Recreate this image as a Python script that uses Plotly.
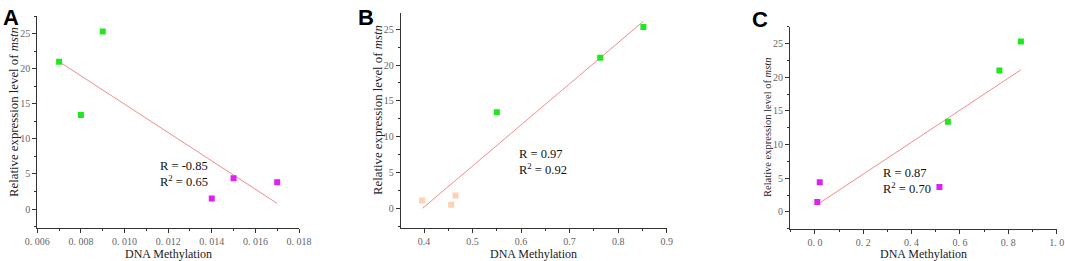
import plotly.graph_objects as go

# ---------------- data ----------------
# Panel A
a_green_x = [0.007, 0.008, 0.009]
a_green_y = [21.0, 13.4, 25.3]
a_mag_x = [0.014, 0.015, 0.017]
a_mag_y = [1.5, 4.4, 3.8]
a_fit_x = [0.007, 0.017]
a_fit_y = [21.0, 0.8]
a_stats = ["R = -0.85", "R<sup>2</sup> = 0.65"]

# Panel B
b_green_x = [0.55, 0.763, 0.852]
b_green_y = [13.4, 21.0, 25.3]
b_peach_x = [0.396, 0.456, 0.465]
b_peach_y = [1.1, 0.5, 1.8]
b_fit_x = [0.397, 0.852]
b_fit_y = [0.0, 26.1]
b_stats = ["R = 0.97", "R<sup>2</sup> = 0.92"]

# Panel C
c_mag_x = [0.01, 0.02, 0.515]
c_mag_y = [1.5, 4.4, 3.7]
c_green_x = [0.55, 0.763, 0.852]
c_green_y = [13.4, 21.0, 25.3]
c_fit_x = [0.01, 0.852]
c_fit_y = [1.1, 21.1]
c_stats = ["R = 0.87", "R<sup>2</sup> = 0.70"]

# tick labels
a_xticks = [0.006, 0.008, 0.010, 0.012, 0.014, 0.016, 0.018]
a_xtext = ["0.\u00a0006", "0.\u00a0008", "0.\u00a0010", "0.\u00a0012", "0.\u00a0014", "0.\u00a0016", "0.\u00a0018"]
b_xticks = [0.4, 0.5, 0.6, 0.7, 0.8, 0.9]
b_xtext = ["0.4", "0.5", "0.6", "0.7", "0.8", "0.9"]
c_xticks = [0.0, 0.2, 0.4, 0.6, 0.8, 1.0]
c_xtext = ["0.\u00a00", "0.\u00a02", "0.\u00a04", "0.\u00a06", "0.\u00a08", "1.\u00a00"]
y_ticks = [0, 5, 10, 15, 20, 25]
y_text = ["0", "5", "10", "15", "20", "25"]

panel_letters = ["A", "B", "C"]
x_title = "DNA Methylation"
y_title = "Relative expression level of <i>mstn</i>"

# ---------------- style ----------------
GREEN = "#1fe81f"
MAG = "#dc22ee"
PEACH = "#fcd2b4"
LINE = "#f28c8c"
SERIF = "Liberation Serif, Times New Roman, serif"
TICKC = "#666666"

fig = go.Figure()

def pts(x, y, color, ax):
    fig.add_trace(go.Scatter(x=x, y=y, mode="markers", xaxis="x" + ax, yaxis="y" + ax,
                             marker=dict(symbol="square", size=6, color=color, line=dict(width=0)),
                             showlegend=False, hoverinfo="skip"))

def fit(x, y, ax):
    fig.add_trace(go.Scatter(x=x, y=y, mode="lines", xaxis="x" + ax, yaxis="y" + ax,
                             line=dict(color=LINE, width=1), showlegend=False, hoverinfo="skip"))

fit(a_fit_x, a_fit_y, "")
pts(a_green_x, a_green_y, GREEN, "")
pts(a_mag_x, a_mag_y, MAG, "")

fit(b_fit_x, b_fit_y, "2")
pts(b_green_x, b_green_y, GREEN, "2")
pts(b_peach_x, b_peach_y, PEACH, "2")

fit(c_fit_x, c_fit_y, "3")
pts(c_mag_x, c_mag_y, MAG, "3")
pts(c_green_x, c_green_y, GREEN, "3")

W, H = 1065, 261

def px_x(p):
    return p / W

def px_y(p):
    return 1 - p / H

def xaxis(dom, rng, vals, text, minor_dtick, anchor):
    return dict(domain=dom, range=rng, anchor=anchor, showgrid=False, zeroline=False,
                automargin=False,
                showline=True, linecolor="#333333", linewidth=1,
                ticks="outside", ticklen=4, tickcolor="#333333",
                tickvals=vals, ticktext=text,
                tickfont=dict(family=SERIF, size=10, color=TICKC),
                minor=dict(ticks="outside", ticklen=2, tickcolor="#333333", dtick=minor_dtick,
                           tick0=vals[0], showgrid=False))

def yaxis(dom, rng, anchor):
    return dict(domain=dom, range=rng, anchor=anchor, showgrid=False, zeroline=False,
                automargin=False,
                showline=True, linecolor="#333333", linewidth=1,
                ticks="outside", ticklen=4, tickcolor="#333333",
                tickvals=y_ticks, ticktext=y_text,
                tickfont=dict(family=SERIF, size=10, color=TICKC),
                minor=dict(ticks="outside", ticklen=2, tickcolor="#333333", dtick=2.5,
                           tick0=0, showgrid=False))

layout = dict(
    width=W, height=H, margin=dict(l=0, r=0, t=0, b=0, pad=0, autoexpand=False),
    plot_bgcolor="white", paper_bgcolor="white",
    xaxis=xaxis([px_x(37.3), px_x(299)], [0.006, 0.018], a_xticks, a_xtext, 0.001, "y"),
    yaxis=yaxis([px_y(228), px_y(16)], [-2.7, 27.5], "x"),
    xaxis2=xaxis([px_x(400.7), px_x(666.7)], [0.352, 0.9], b_xticks, b_xtext, 0.05, "y2"),
    yaxis2=yaxis([px_y(227.7), px_y(12.7)], [-2.7, 27.3], "x2"),
    xaxis3=xaxis([px_x(790), px_x(1056.7)], [-0.103, 1.0], c_xticks, c_xtext, 0.1, "y3"),
    yaxis3=yaxis([px_y(229.3), px_y(26.7)], [-2.57, 27.5], "x3"),
)
fig.update_layout(**layout)

ann = []
# panel letters
for letter, cx, cy in zip(panel_letters, [11, 366, 760], [17, 17, 20]):
    ann.append(dict(text="<b>" + letter + "</b>", x=px_x(cx), y=px_y(cy), xref="paper", yref="paper",
                    showarrow=False, xanchor="center", yanchor="middle",
                    font=dict(family="Liberation Sans, Arial, sans-serif", size=22, color="black")))
# x titles
for cx in [168, 533, 923]:
    ann.append(dict(text=x_title, x=px_x(cx), y=px_y(253.5), xref="paper", yref="paper",
                    showarrow=False, xanchor="center", yanchor="middle",
                    font=dict(family=SERIF, size=12, color="#222222")))
# y titles
for cx, cy, fs in [(14, 112, 12.8), (378, 110, 12.8), (768, 128, 10.5)]:
    ann.append(dict(text=y_title, x=px_x(cx), y=px_y(cy), xref="paper", yref="paper",
                    showarrow=False, xanchor="center", yanchor="middle", textangle=-90,
                    font=dict(family=SERIF, size=fs, color="#222222")))
# stats
for stats, lx, ty in [(a_stats, 158, 166), (b_stats, 517, 154), (c_stats, 881, 173)]:
    for i, s in enumerate(stats):
        ann.append(dict(text=s, x=px_x(lx), y=px_y(ty + 14.5 * i), xref="paper", yref="paper",
                        showarrow=False, xanchor="left", yanchor="middle",
                        font=dict(family=SERIF, size=12.5, color="#111111")))

fig.update_layout(annotations=ann)
fig.write_html("out.html", config={"displayModeBar": False},
               post_script="document.body.style.margin='0';document.body.style.overflow='hidden';")
